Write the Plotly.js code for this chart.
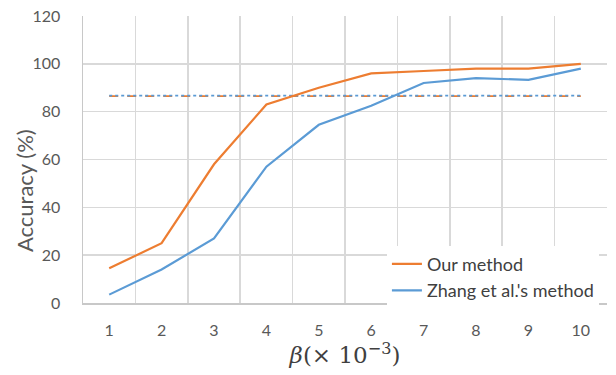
<!DOCTYPE html>
<html><head><meta charset="utf-8">
<script src="https://cdn.plot.ly/plotly-3.0.1.min.js"></script>
<style>html,body{margin:0;padding:0;background:#fff}#chart{width:616px;height:375px}</style>
</head><body><div id="chart"></div>
<script>
const betaLabels = ['1','2','3','4','5','6','7','8','9','10'];
const ourMethod = [14.5, 25, 58, 83, 90, 96, 97, 98, 98, 100];
const zhangMethod = [3.5, 14, 27, 57, 74.5, 82.5, 92, 94, 93.3, 98];
const refOrange = [86.5, 86.5, 86.5, 86.5, 86.5, 86.5, 86.5, 86.5, 86.5, 86.5];
const refBlue = [86.7, 86.7, 86.7, 86.7, 86.7, 86.7, 86.7, 86.7, 86.7, 86.7];
const seriesNames = ['Our method', "Zhang et al.'s method"];

const orange = '#ED7D31', blue = '#5B9BD5';
const traces = [
  {x: betaLabels, y: refOrange, type: 'scatter', mode: 'lines', line: {color: orange, width: 1.8, dash: 'dash'}, showlegend: false, hoverinfo: 'skip'},
  {x: betaLabels, y: refBlue, type: 'scatter', mode: 'lines', line: {color: blue, width: 1.8, dash: 'dot'}, showlegend: false, hoverinfo: 'skip'},
  {x: betaLabels, y: ourMethod, name: seriesNames[0], type: 'scatter', mode: 'lines', line: {color: orange, width: 2.2}},
  {x: betaLabels, y: zhangMethod, name: seriesNames[1], type: 'scatter', mode: 'lines', line: {color: blue, width: 2.2}}
];
const layout = {
  width: 616, height: 375,
  margin: {l: 83, r: 9, t: 16, b: 72},
  paper_bgcolor: '#fff', plot_bgcolor: '#fff',
  font: {family: 'Lato, "Open Sans", sans-serif', color: '#595959', size: 16},
  xaxis: {
    type: 'category', tickson: 'boundaries', range: [-0.5, 9.5],
    showgrid: true, gridcolor: '#d9d9d9', gridwidth: 1.5,
    showline: true, linecolor: '#c8c8c8', linewidth: 1.5,
    ticks: '', ticklabelstandoff: 12, tickfont: {size: 16, color: '#595959'},
    title: {text: '<i>β</i>(× 10<sup>−3</sup>)', font: {size: 23, color: '#404040', family: '"DejaVu Serif", serif'}, standoff: 2},
    zeroline: false, fixedrange: true
  },
  yaxis: {
    range: [0, 120], dtick: 20,
    showgrid: true, gridcolor: '#d9d9d9', gridwidth: 1.5,
    showline: true, linecolor: '#c8c8c8', linewidth: 1.5,
    ticks: '', ticklabelstandoff: 18, tickfont: {size: 16, color: '#595959'},
    zeroline: false, fixedrange: true
  },
  annotations: [{
    text: 'Accuracy (%)', textangle: -90, xref: 'paper', yref: 'paper',
    x: 0, xanchor: 'center', yanchor: 'middle', xshift: -59, y: 0.39, showarrow: false,
    font: {size: 22, color: '#595959'}
  }],
  legend: {
    x: 0.58, y: -0.02, xanchor: 'left', yanchor: 'bottom',
    bgcolor: '#ffffff', borderwidth: 0,
    font: {size: 18, color: '#404040'}, tracegroupgap: 0, itemwidth: 30
  },
  showlegend: true
};
Plotly.newPlot('chart', traces, layout, {displayModeBar: false, staticPlot: true});
</script></body></html>
